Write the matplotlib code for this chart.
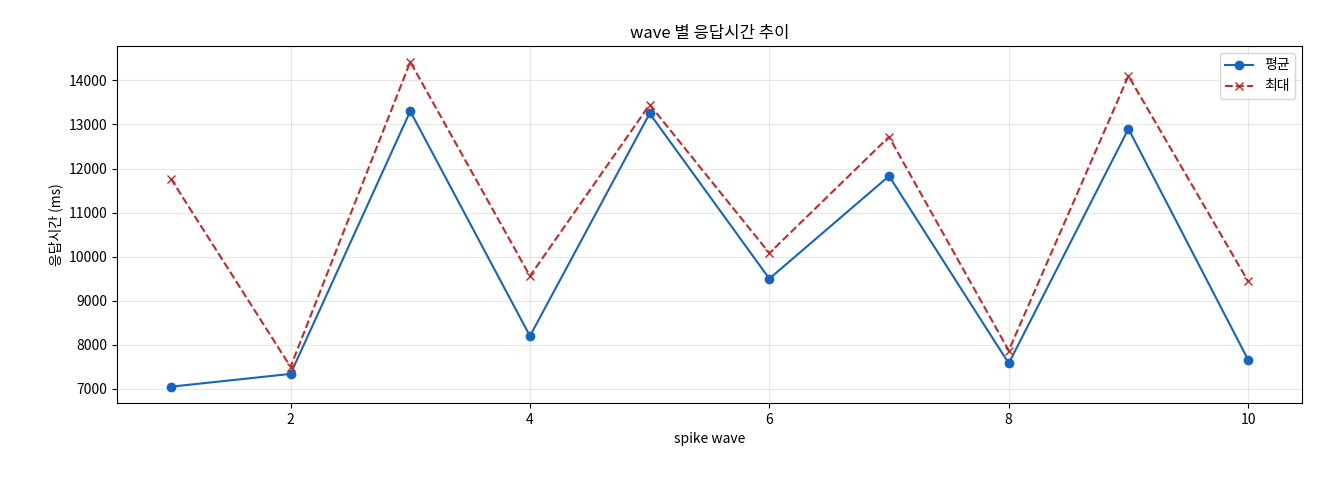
import matplotlib
matplotlib.use("Agg")
import matplotlib.pyplot as plt

plt.rcParams['font.family'] = ['Noto Sans CJK KR', 'DejaVu Sans']

waves = [1, 2, 3, 4, 5, 6, 7, 8, 9, 10]
avg_ms = [7050, 7340, 13300, 8200, 13250, 9500, 11830, 7580, 12900, 7660]
max_ms = [11770, 7500, 14420, 9560, 13450, 10080, 12720, 7870, 14100, 9440]

fig = plt.figure(figsize=(13.2, 4.8), dpi=100)
ax = fig.add_axes([117/1320, 1-403/480, (1302-117)/1320, (403-46)/480])
ax.plot(waves, avg_ms, marker='o', color='#1565C0', label='평균', markersize=6)
ax.plot(waves, max_ms, marker='x', linestyle='--', color='#C62828', label='최대', markersize=6)
ax.set_title('wave 별 응답시간 추이', fontsize=12)
ax.set_xlabel('spike wave', fontsize=10)
ax.set_ylabel('응답시간 (ms)', fontsize=10)
ax.grid(True, alpha=0.3)
ax.set_yticks(range(7000, 14001, 1000))
ax.set_ylim(6680, 14780)
ax.set_xlim(0.55, 10.45)
ax.tick_params(labelsize=10)
ax.legend(loc='upper right', fontsize=10)
fig.savefig('out.png')
